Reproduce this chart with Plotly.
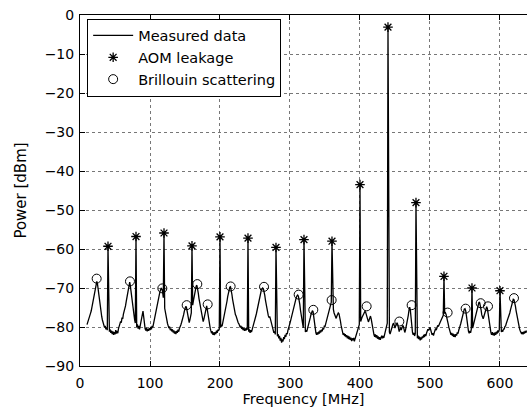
import plotly.graph_objects as go

# Measured spectrum: sampled every 1 MHz starting at 10 MHz
freq_start = 10
power_measured = [
    -79.4, -78.9, -78.5, -77.8, -77.3, -76.5, -75.9, -75.0, -74.2, -73.4,
    -72.6, -71.5, -70.4, -69.2, -68.3, -69.0, -70.6, -72.3, -73.9, -75.2,
    -76.4, -77.3, -78.2, -78.9, -79.6, -80.1, -79.7, -80.6, -80.2, -80.8,
    -59.3, -80.5, -81.2, -80.6, -81.5, -80.9, -81.8, -81.1, -82.0, -81.3,
    -81.9, -80.8, -81.7, -81.0, -81.6, -80.4, -80.0, -79.2, -78.6, -78.9,
    -77.6, -77.9, -76.7, -76.1, -75.3, -74.6, -73.5, -72.4, -71.1, -69.9,
    -69.0, -68.5, -69.6, -71.3, -73.0, -74.5, -75.7, -77.0, -78.1, -79.0,
    -56.8, -80.0, -79.3, -80.4, -79.7, -80.6, -79.4, -78.5, -77.2, -76.2,
    -75.9, -77.4, -79.3, -80.4, -80.9, -80.2, -81.1, -80.5, -81.0, -80.3,
    -80.8, -80.0, -80.6, -79.7, -80.1, -79.1, -78.5, -77.7, -76.9, -75.9,
    -75.0, -73.9, -72.8, -71.9, -71.1, -70.5, -70.1, -70.3, -71.0, -72.5,
    -55.9, -75.2, -76.5, -77.5, -78.3, -79.1, -79.7, -80.3, -79.9, -80.8,
    -80.4, -81.1, -80.6, -81.4, -80.9, -81.7, -81.1, -81.8, -81.0, -81.5,
    -80.7, -81.2, -80.4, -80.1, -79.5, -78.9, -78.4, -77.6, -76.9, -76.0,
    -75.3, -74.7, -74.9, -76.1, -77.3, -78.2, -78.9, -78.2, -77.5, -76.4,
    -59.2, -74.4, -73.3, -72.1, -71.1, -70.2, -69.5, -69.3, -70.1, -71.3,
    -72.7, -73.9, -75.1, -76.3, -77.3, -78.1, -78.6, -78.0, -77.1, -75.9,
    -75.0, -74.6, -75.7, -77.1, -78.4, -79.6, -80.3, -81.0, -81.6, -81.1,
    -82.0, -81.4, -82.1, -81.3, -81.8, -80.9, -81.5, -80.7, -81.0, -80.3,
    -56.9, -80.1, -79.6, -79.8, -78.9, -78.4, -77.6, -76.8, -75.7, -74.6,
    -73.4, -72.2, -71.1, -70.3, -69.8, -69.7, -70.4, -71.6, -72.9, -74.1,
    -75.2, -75.9, -76.8, -77.2, -77.9, -78.3, -78.9, -79.2, -79.6, -80.1,
    -79.7, -80.5, -80.0, -80.8, -80.3, -81.0, -80.4, -80.9, -80.2, -80.7,
    -57.2, -81.2, -80.6, -81.5, -80.8, -81.3, -80.5, -80.1, -79.4, -78.8,
    -78.1, -77.3, -76.6, -75.6, -74.7, -73.7, -72.8, -71.9, -71.2, -70.6,
    -70.3, -70.0, -70.2, -70.8, -71.9, -73.2, -74.5, -75.6, -76.5, -77.1,
    -77.6, -77.3, -77.9, -78.8, -79.6, -80.4, -80.9, -81.5, -81.1, -81.9,
    -59.6, -81.7, -82.4, -81.8, -82.9, -82.3, -83.5, -82.8, -84.0, -83.2,
    -83.7, -82.6, -83.1, -82.0, -82.5, -81.6, -81.8, -80.9, -80.4, -79.6,
    -79.0, -78.3, -77.5, -76.8, -76.0, -75.1, -74.3, -73.6, -73.0, -72.4,
    -72.0, -71.8, -72.1, -72.9, -74.2, -75.7, -77.2, -78.5, -79.4, -80.2,
    -57.6, -80.9, -81.3, -80.8, -81.2, -80.4, -79.8, -79.3, -78.4, -77.6,
    -76.8, -76.2, -75.8, -76.1, -77.6, -79.3, -80.6, -81.5, -82.0, -81.4,
    -81.9, -81.2, -81.7, -80.9, -81.4, -80.7, -81.1, -80.3, -80.6, -79.8,
    -79.9, -79.2, -78.8, -78.1, -77.4, -76.6, -75.7, -74.9, -74.1, -73.6,
    -58.0, -74.6, -75.5, -76.4, -77.0, -77.5, -77.8, -77.2, -76.7, -76.4,
    -76.6, -77.3, -78.4, -79.6, -80.7, -81.5, -82.0, -81.6, -82.3, -81.8,
    -82.6, -82.1, -82.9, -82.3, -83.1, -82.5, -83.3, -82.7, -83.6, -82.9,
    -83.4, -82.8, -83.7, -83.0, -82.4, -82.0, -81.3, -80.6, -80.0, -79.4,
    -43.5, -78.6, -78.0, -77.5, -77.1, -76.6, -76.3, -76.0, -76.2, -76.8,
    -77.6, -78.3, -78.7, -78.2, -77.6, -77.2, -77.9, -79.1, -80.4, -81.3,
    -82.0, -82.5, -81.9, -82.7, -82.1, -83.0, -82.4, -83.2, -82.6, -83.3,
    -82.7, -82.2, -82.9, -82.3, -82.8, -81.9, -81.4, -80.6, -79.8, -79.0,
    -3.1, -80.4, -81.3, -81.8, -81.0, -80.4, -79.8, -79.3, -79.0, -79.6,
    -80.3, -79.7, -79.2, -78.9, -79.4, -80.5, -81.2, -80.6, -80.1, -80.8,
    -80.2, -79.6, -79.9, -80.7, -81.4, -80.8, -80.0, -79.2, -78.3, -77.0,
    -75.7, -74.9, -75.8, -77.9, -80.1, -81.4, -82.0, -81.5, -82.3, -81.7,
    -48.1, -82.1, -82.9, -82.2, -83.1, -82.5, -83.4, -82.7, -83.2, -82.4,
    -82.8, -82.0, -82.6, -81.8, -82.3, -81.6, -81.0, -80.6, -80.9, -80.3,
    -80.1, -80.7, -81.4, -82.0, -81.6, -82.2, -81.5, -81.0, -80.4, -80.8,
    -80.1, -79.6, -79.9, -79.3, -79.0, -78.6, -78.2, -77.9, -77.4, -77.0,
    -67.0, -76.4, -76.3, -76.8, -77.4, -78.3, -79.2, -80.1, -80.8, -81.4,
    -82.0, -81.5, -82.3, -81.7, -82.5, -81.9, -82.6, -81.8, -82.2, -81.4,
    -81.7, -80.9, -80.5, -79.7, -79.1, -78.4, -77.6, -76.7, -75.9, -75.4,
    -75.3, -75.8, -77.0, -78.6, -80.0, -81.1, -81.6, -81.0, -81.5, -80.6,
    -70.0, -80.3, -79.5, -78.7, -78.0, -77.2, -76.3, -75.5, -74.7, -74.0,
    -73.6, -73.8, -74.5, -75.6, -76.9, -77.6, -77.9, -77.3, -76.5, -75.7,
    -75.0, -74.8, -75.3, -76.6, -78.2, -79.6, -80.7, -81.4, -82.0, -81.3,
    -82.1, -81.5, -82.2, -81.4, -82.0, -81.2, -81.7, -80.9, -81.4, -80.7,
    -70.7, -80.9, -81.3, -80.8, -81.2, -80.4, -80.6, -79.9, -79.7, -79.1,
    -78.6, -78.2, -77.6, -77.1, -76.4, -75.6, -74.7, -73.9, -73.3, -72.9,
    -73.0, -73.6, -74.6, -75.8, -77.0, -78.1, -79.0, -79.8, -80.5, -81.0,
    -81.4, -81.8, -81.3, -81.9, -81.2, -81.7, -81.0, -81.5, -80.9,
]
freq_measured = [freq_start + i for i in range(len(power_measured))]

aom_freq = [40, 80, 120, 160, 200, 240, 280, 320, 360, 400, 440, 480, 520, 560, 600]
aom_power = [-59.3, -56.8, -55.9, -59.2, -56.9, -57.2, -59.6, -57.6, -58.0,
             -43.5, -3.1, -48.1, -67.0, -70.0, -70.7]

brill_freq = [23.8, 71.4, 117.6, 152.4, 167.6, 182.4, 215.2, 262.9, 312.4, 333.3,
              359.5, 409.5, 456.2, 473.8, 525.2, 550.9, 572.4, 582.9, 620.0]
brill_power = [-67.6, -68.3, -70.1, -74.4, -69.0, -74.2, -69.6, -69.7, -71.7, -75.6,
               -73.1, -74.7, -78.6, -74.4, -76.3, -75.3, -73.9, -74.7, -72.6]

x_ticks = [0, 100, 200, 300, 400, 500, 600]
y_ticks = [0, -10, -20, -30, -40, -50, -60, -70, -80, -90]

FONT = "DejaVu Sans"
GRID = dict(showgrid=True, gridcolor="#777", griddash="dot", gridwidth=1)

fig = go.Figure()
fig.add_trace(go.Scatter(x=freq_measured, y=power_measured, mode="lines",
                         line=dict(color="black", width=1.3), name="Measured data"))
fig.add_trace(go.Scatter(x=aom_freq, y=aom_power, mode="markers",
                         marker=dict(symbol="asterisk-open", size=8, color="black",
                                     line=dict(color="black", width=1.3)),
                         name="AOM leakage"))
fig.add_trace(go.Scatter(x=brill_freq, y=brill_power, mode="markers",
                         marker=dict(symbol="circle-open", size=9, color="black",
                                     line=dict(color="black", width=1)),
                         name="Brillouin scattering"))

fig.update_layout(
    width=527, height=407,
    margin=dict(l=80, r=0, t=15, b=38),
    paper_bgcolor="white", plot_bgcolor="white",
    font=dict(family=FONT, size=14, color="black"),
    showlegend=True,
    legend=dict(x=0.016, y=0.99, xanchor="left", yanchor="top",
                bgcolor="white", bordercolor="black", borderwidth=1,
                font=dict(family=FONT, size=14.5, color="black"),
                tracegroupgap=0, itemwidth=40),
    xaxis=dict(range=[0, 638.6], tickvals=x_ticks, ticks="inside", ticklen=5,
               tickcolor="black", showline=True, linecolor="black", linewidth=1,
               mirror="ticks", zeroline=False, ticklabelstandoff=4,
               title=dict(text="Frequency [MHz]", standoff=6,
                          font=dict(family=FONT, size=14.5)), **GRID),
    yaxis=dict(range=[-90, 0], tickvals=y_ticks, ticks="inside", ticklen=5,
               tickcolor="black", showline=True, linecolor="black", linewidth=1,
               mirror=False, zeroline=False, ticklabelstandoff=2,
               title=dict(text="Power [dBm]", standoff=14,
                          font=dict(family=FONT, size=15)), **GRID),
)

fig.write_html("out.html", config={"displayModeBar": False},
               post_script="document.body.style.margin='0';document.body.style.overflow='hidden';")
